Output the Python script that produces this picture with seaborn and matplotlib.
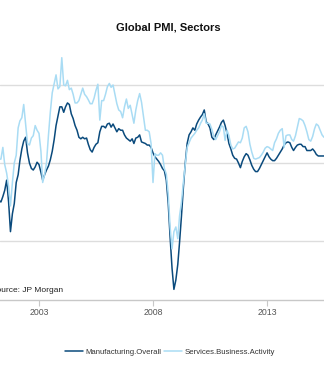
import numpy as np
import pandas as pd
import matplotlib
matplotlib.use("Agg")
import matplotlib.pyplot as plt
import matplotlib.dates as mdates
from matplotlib.lines import Line2D
import seaborn as sns

# Monthly data, Jan 2001 onwards
start_month = "2001-01-01"
manufacturing = [
    46.5, 46.0, 45.5, 45.2, 45.0, 45.7, 46.5, 47.8, 45.0, 41.2, 43.5, 44.8,
    47.5, 48.5, 50.3, 51.8, 52.8, 53.3, 51.3, 50.0, 49.3, 49.1, 49.5, 50.1,
    49.8, 48.8, 47.8, 48.5, 49.1, 49.6, 50.4, 51.5, 53.0, 54.8, 56.0, 57.2,
    57.2, 56.5, 57.2, 57.7, 57.5, 56.3, 55.7, 54.8, 54.2, 53.3, 53.1, 53.3,
    53.1, 53.2, 52.4, 51.7, 51.4, 52.0, 52.4, 52.6, 54.0, 54.7, 54.7, 54.5,
    55.0, 55.1, 54.6, 55.0, 54.5, 54.0, 54.4, 54.2, 54.2, 53.6, 53.2, 53.0,
    52.8, 53.1, 52.5, 53.2, 53.3, 53.6, 52.7, 52.6, 52.5, 52.3, 52.3, 52.0,
    51.3, 50.8, 50.5, 50.2, 49.8, 49.3, 49.0, 47.8, 44.8, 40.5, 36.5, 33.8,
    35.0, 37.0, 39.8, 43.2, 46.8, 50.0, 52.5, 53.6, 54.0, 54.5, 54.2, 55.0,
    55.5, 55.9, 56.2, 56.8, 55.3, 55.0, 54.5, 53.3, 53.0, 53.6, 54.1, 54.6,
    55.2, 55.5, 54.8, 53.8, 52.5, 51.8, 51.0, 50.6, 50.5, 50.0, 49.4, 50.2,
    50.8, 51.2, 51.0, 50.4, 49.7, 49.2, 48.9, 48.9, 49.3, 49.8, 50.3, 50.8,
    51.3, 50.8, 50.5, 50.3, 50.3, 50.6, 51.0, 51.4, 51.8, 52.3, 52.6, 52.7,
    52.6, 52.0, 51.6, 52.0, 52.3, 52.4, 52.4, 52.1, 52.1, 51.6, 51.6, 51.6,
    51.8, 51.5, 51.1, 50.9, 50.9, 50.9, 50.9,
]
services = [
    53.5, 52.5, 51.0, 50.5, 50.5, 52.0, 49.8, 48.7, 47.0, 44.5, 47.5, 50.0,
    51.0, 54.5, 55.4, 55.8, 57.5, 55.0, 52.5, 52.3, 53.2, 53.5, 54.8, 54.2,
    53.8, 51.5, 47.5, 48.5, 50.0, 53.5, 56.5, 59.0, 60.2, 61.3, 59.5, 59.8,
    63.5, 60.0, 59.9, 60.6, 59.4, 59.6, 58.8, 57.7, 57.7, 58.0, 58.8, 59.6,
    58.8, 58.5, 58.1, 57.6, 57.6, 58.3, 59.3, 60.1, 55.5, 58.0, 58.0, 58.8,
    59.8, 60.2, 59.7, 60.0, 58.8, 57.6, 56.8, 56.6, 55.8, 57.2, 58.2, 57.0,
    57.4, 56.2, 55.1, 56.8, 58.0, 58.9, 57.8, 56.0, 54.2, 54.2, 54.0, 52.5,
    47.5, 51.2, 51.0, 51.0, 51.3, 51.0, 49.3, 48.6, 46.0, 41.8, 39.0, 41.2,
    41.8, 40.3, 43.2, 45.0, 47.5, 49.8, 52.0, 52.6, 53.2, 53.5, 53.8, 54.2,
    54.5, 55.1, 55.5, 56.3, 55.1, 55.1, 55.0, 54.3, 53.4, 53.0, 53.5, 54.0,
    54.8, 54.6, 52.9, 54.2, 53.5, 52.3, 51.8, 51.9, 52.3, 52.7, 52.6, 53.2,
    54.5, 54.7, 54.0, 52.4, 51.4, 50.6, 50.5, 50.6, 50.7, 51.0, 51.4, 51.9,
    52.1, 52.0, 51.8, 51.6, 52.6, 53.1, 53.8, 54.2, 54.4, 52.0, 53.5, 53.6,
    53.6, 53.0, 52.8, 53.5, 54.6, 55.7, 55.6, 55.4, 54.8, 54.0, 53.0, 52.8,
    53.4, 54.4, 55.0, 54.8, 54.2, 53.6, 53.3,
]
series_names = ["Manufacturing.Overall", "Services.Business.Activity"]
series_colors = ["#0a4a7c", "#a9dcf4"]
tick_years = [2003, 2008, 2013]
grid_values = [40, 50, 60]

dates = pd.date_range(start_month, periods=len(manufacturing), freq="MS")
df = pd.concat([
    pd.DataFrame({"date": dates, "value": manufacturing, "series": series_names[0]}),
    pd.DataFrame({"date": dates[:len(services)], "value": services, "series": series_names[1]}),
])

sns.set_theme(style="white")
plt.rcParams["font.family"] = ["Liberation Sans", "DejaVu Sans"]

W, H = 324, 377
fig = plt.figure(figsize=(W / 100, H / 100), dpi=100)
ax_bottom = 300
ax_top = 46
ax = fig.add_axes([0, (H - ax_bottom) / H, 1, (ax_bottom - ax_top) / H])

sns.lineplot(data=df, x="date", y="value", hue="series", hue_order=series_names,
             palette=series_colors, linewidth=1.1, ax=ax, legend=False)

# x limits so that Jan 2003 sits at px 39 and Jan 2008 at px 153
d03 = mdates.date2num(pd.Timestamp("2003-01-01"))
d08 = mdates.date2num(pd.Timestamp("2008-01-01"))
ppd = (153 - 39) / (d08 - d03)
ax.set_xlim(d03 - 39 / ppd, d03 + (W - 39) / ppd)
y50_px = 163
ppu = 7.8
ax.set_ylim(50 - (ax_bottom - y50_px) / ppu, 50 + (y50_px - ax_top) / ppu)

ax.set_xticks([mdates.date2num(pd.Timestamp(f"{y}-01-01")) for y in tick_years])
ax.set_xticklabels([str(y) for y in tick_years])
ax.set_yticks(grid_values)
ax.set_yticklabels([])
ax.tick_params(axis="y", length=0)
ax.tick_params(axis="x", length=4, width=0.8, color="#c8c8c8", labelsize=6.3,
               labelcolor="#555555", pad=2, bottom=True)
ax.grid(axis="y", color="#dddddd", linewidth=1.0)
ax.grid(axis="x", visible=False)
for s in ["top", "left", "right"]:
    ax.spines[s].set_visible(False)
ax.spines["bottom"].set_color("#c8c8c8")
ax.spines["bottom"].set_linewidth(1.0)
ax.set_xlabel("")
ax.set_ylabel("")

fig.text(168 / W, 1 - 28 / H, "Global PMI, Sectors", ha="center", va="center",
         fontsize=8, fontweight="bold", color="#111111")
fig.text(-9 / W, 1 - 291 / H, "Source: JP Morgan", ha="left", va="center",
         fontsize=6, color="#222222")

handles = [Line2D([], [], color=c, linewidth=1.1) for c in series_colors]
fig.legend(handles, series_names, loc="center", bbox_to_anchor=(170 / W, 1 - 352 / H),
           ncol=2, frameon=False, fontsize=5.6, handlelength=2.3, handletextpad=0.4,
           columnspacing=0.25, labelcolor="#333333")

fig.savefig("out.png", dpi=100)
